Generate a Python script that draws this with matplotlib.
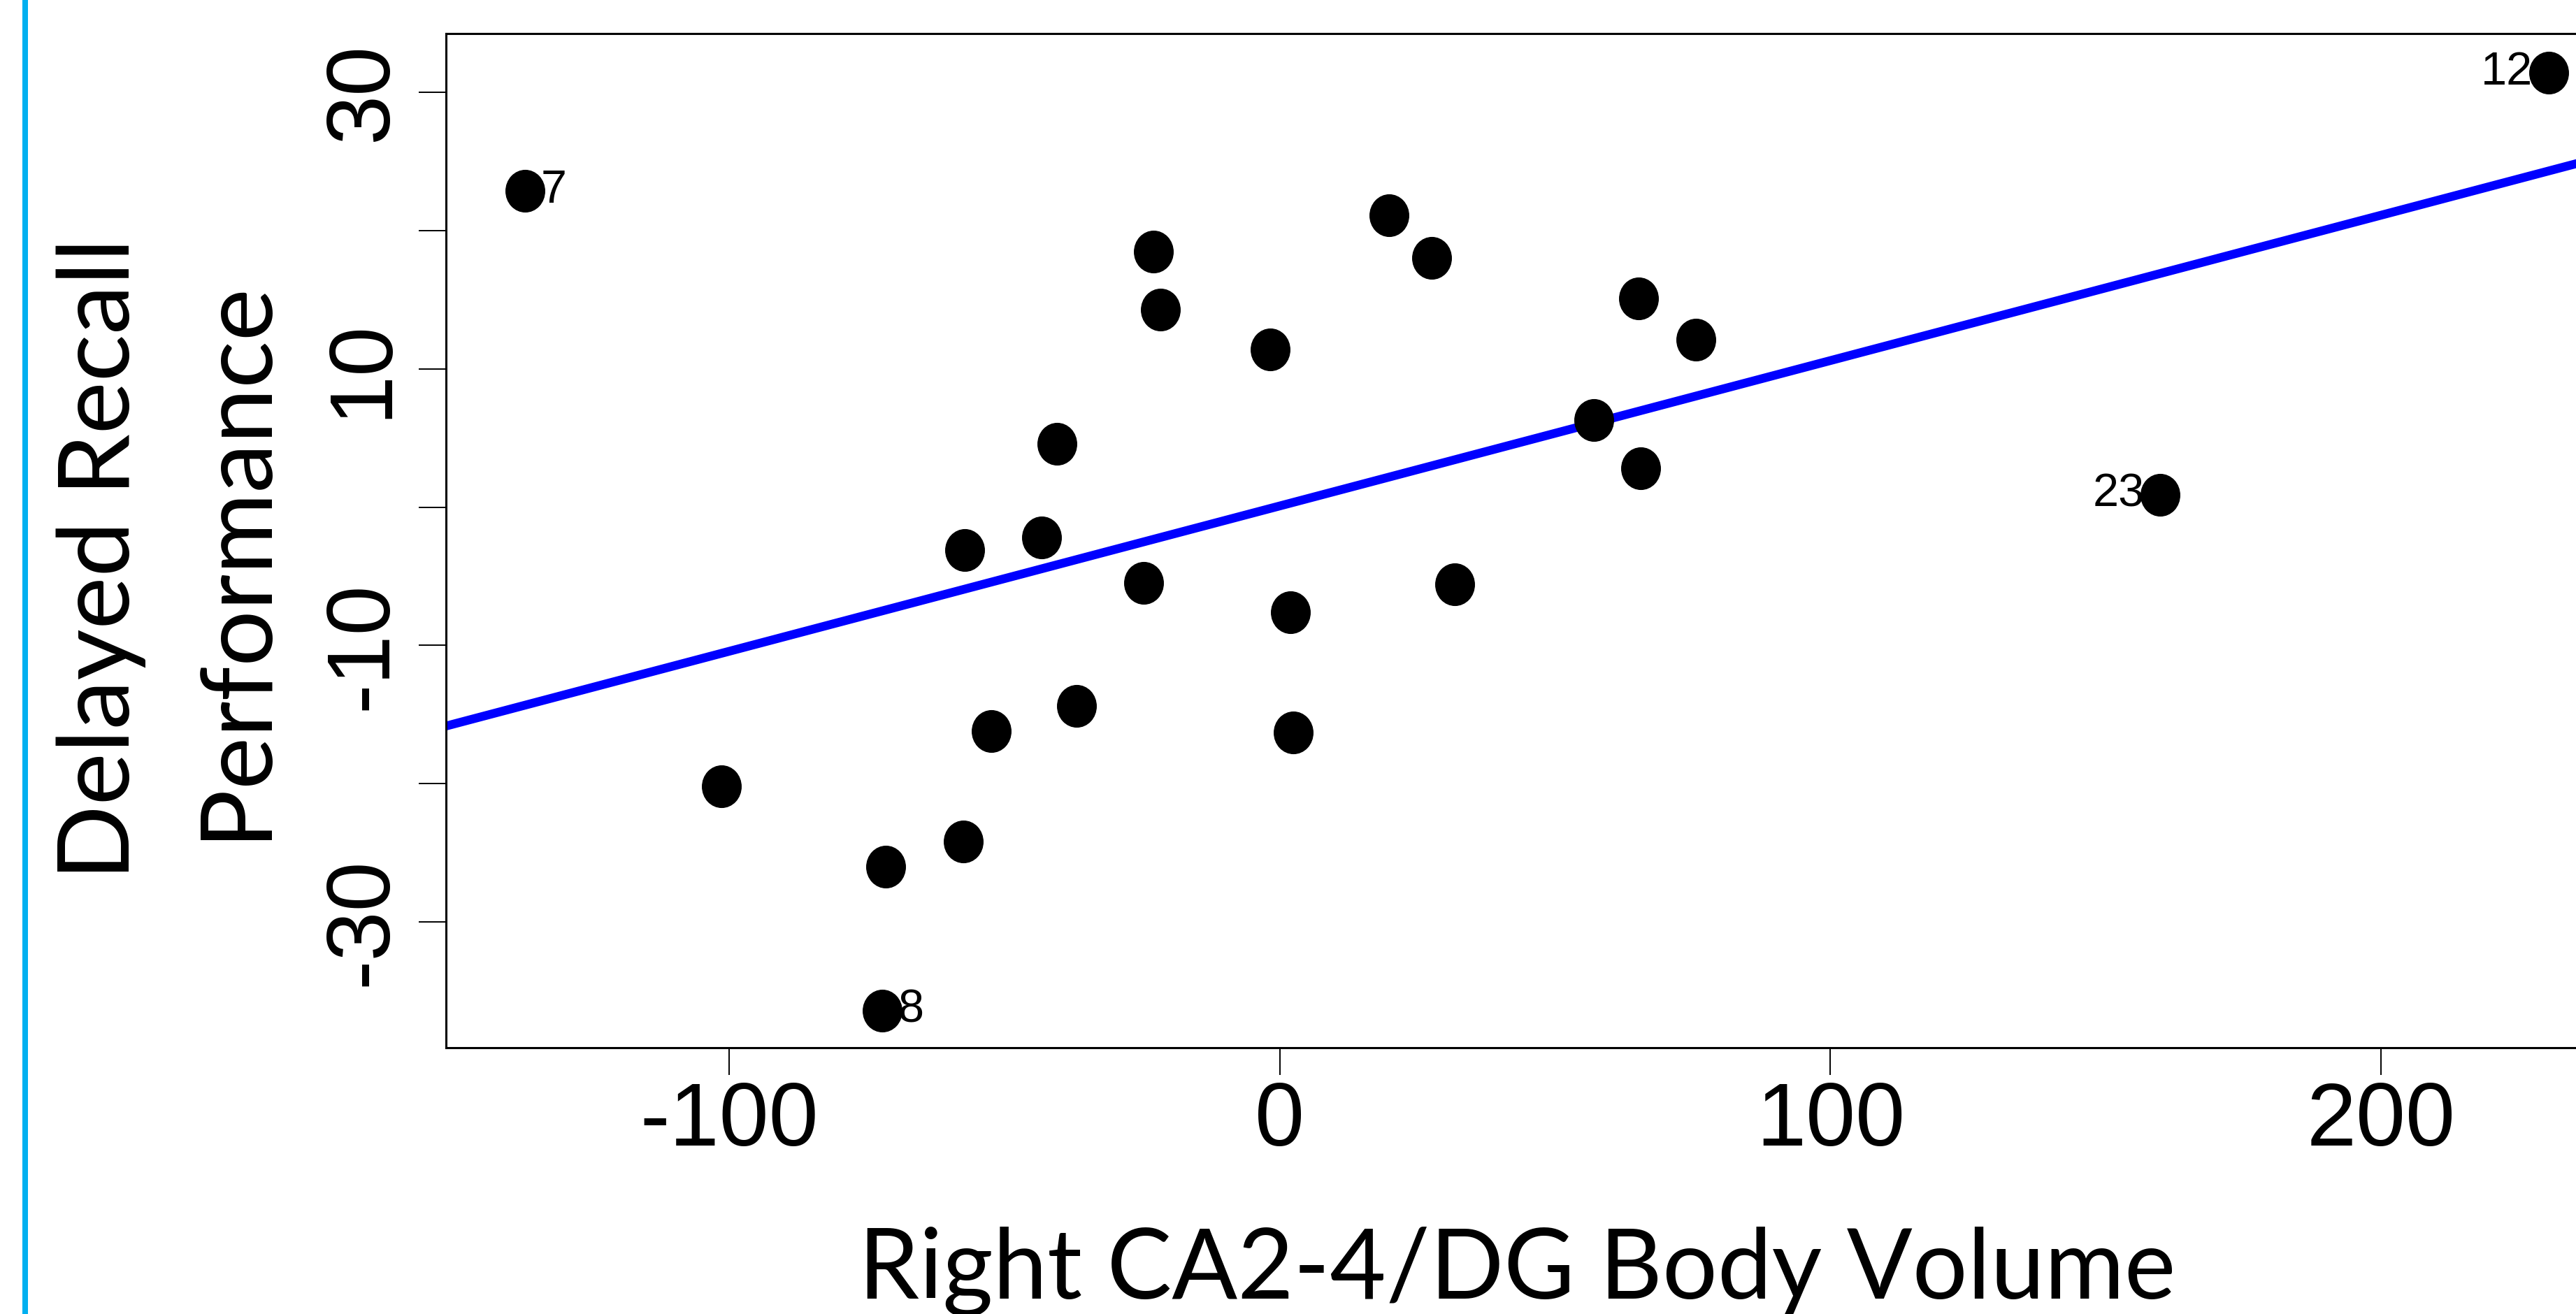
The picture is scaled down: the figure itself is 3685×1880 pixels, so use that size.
import numpy as np
import matplotlib
matplotlib.use("Agg")
import matplotlib.pyplot as plt
from matplotlib.path import Path
from matplotlib.transforms import Affine2D
from matplotlib.patches import Rectangle

plt.rcParams["axes.unicode_minus"] = False

# added-variable plot: residual volume vs residual delayed recall
volume = [-137.0, 230.4, 159.9, -72.2, -101.4, -71.6, -57.5, -52.4, -57.2,
          -43.2, -40.5, -36.9, -24.7, -22.9, -21.7, -1.7, 1.9, 2.5, 19.8,
          27.6, 31.8, 57.1, 65.2, 65.5, 75.6]
recall = [22.9, 31.4, 0.9, -36.4, -20.2, -26.0, -24.2, -16.2, -3.1,
          -2.2, 4.6, -14.4, -5.5, 18.5, 14.3, 11.4, -7.6, -16.3, 21.1,
          18.0, -5.6, 6.3, 15.1, 2.8, 12.1]

# points that got an id label (index into the lists above)
label_idx = [0, 1, 2, 3]
label_txt = ["7", "12", "23", "8"]
label_side = ["right", "left", "left", "right"]

xticks = [-100, 0, 100, 200]
yticks = [-30, -20, -10, 0, 10, 20, 30]
ytick_labels = ["-30", "", "-10", "", "10", "", "30"]

xlabel = "Right CA2-4/DG Body Volume"
ylabel_lines = ["Delayed Recall", "Performance"]

W, H = 3685, 1880
fig = plt.figure(figsize=(W / 100, H / 100), dpi=100)
fig.patch.set_facecolor("white")

# slide accent bar on the far left
fig.add_artist(Rectangle((32 / W, 0), 8 / W, 1, transform=fig.transFigure,
                         color="#00B0F0", lw=0))

ax = fig.add_axes([638 / W, 1 - 1499 / H, 1 - 638 / W, (1499 - 48) / H])
ax.set_xlim(-151.4, 235.4)
ax.set_ylim(-39.1, 34.25)

for s in ["left", "bottom", "top"]:
    ax.spines[s].set_linewidth(2.2)
ax.spines["right"].set_visible(False)

ax.set_xticks(xticks)
ax.set_yticks(yticks)
ax.set_yticklabels(ytick_labels, rotation=90, va="center")
ax.tick_params(length=28, width=1.4, labelsize=92, direction="out")
ax.tick_params(axis="x", pad=6)
ax.tick_params(axis="y", pad=14)
for lab in ax.get_xticklabels() + ax.get_yticklabels():
    lab.set_fontfamily("Liberation Sans")

# regression line of the residuals
slope, intercept = np.polyfit(volume, recall, 1)
ax.axline((0, intercept), slope=slope, color="#0000FF", lw=9, zorder=2)

# slightly tall dots like the original export
dot = Path.unit_circle().transformed(Affine2D().scale(0.93, 1.0))
ax.plot(volume, recall, linestyle="none", marker=dot, ms=43,
        color="black", zorder=4)

for i, txt, side in zip(label_idx, label_txt, label_side):
    dx = 16 if side == "right" else -16
    ax.annotate(txt, (volume[i], recall[i]), xytext=(dx, 0),
                textcoords="offset points",
                ha="left" if side == "right" else "right", va="center",
                fontsize=48, fontfamily="Liberation Sans", zorder=3)

fig.text(2170 / W, 1 - 1858 / H, xlabel, fontfamily="Lato", fontsize=100,
         ha="center", va="baseline")
fig.text(185 / W, 1 - 800 / H, ylabel_lines[0], fontfamily="Lato",
         fontsize=102, rotation=90, rotation_mode="anchor",
         ha="center", va="baseline")
fig.text(377 / W, 1 - 800 / H, ylabel_lines[1], fontfamily="Lato",
         fontsize=102, rotation=90, rotation_mode="anchor",
         ha="center", va="baseline")

fig.savefig("out.png", dpi=100)
